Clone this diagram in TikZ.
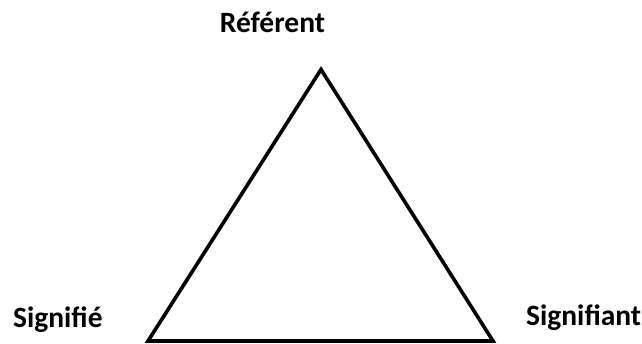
\documentclass[tikz,border=0pt]{standalone}
\usepackage{fontspec}
\setmainfont{Carlito}
\begin{document}
\begin{tikzpicture}[
  x=1pt, y=-1pt,
  label/.style={font=\bfseries\fontsize{29.5}{34}\selectfont, inner sep=0pt},
  line/.style={draw, line width=3.6pt}
]
    \useasboundingbox (0,0) rectangle (642,343);
    \coordinate (top) at (321,69.5);
    \coordinate (left) at (148,341);
    \coordinate (right) at (493,341);

    \node [label, anchor=base] (referent) at (272.5,32) {Référent};
    \node [label, anchor=base west] (signifie) at (13,327) {Signifié};
    \node [label, anchor=base west] (signifiant) at (526,325) {Signifiant};

    \path [line] (top) -- (right) -- (left) -- cycle;
\end{tikzpicture}
\end{document}
